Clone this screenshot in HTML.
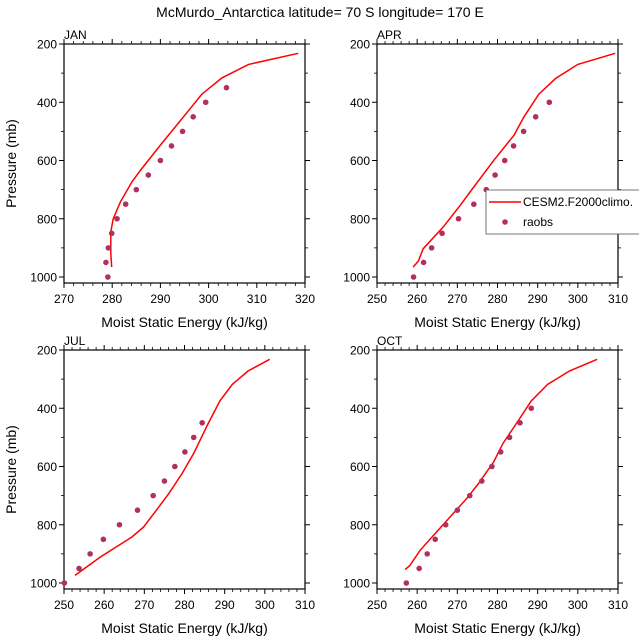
<!DOCTYPE html>
<html><head><meta charset="utf-8"><style>
body{margin:0;background:#fff;}
svg{font-family:"Liberation Sans",Arial,sans-serif;}
</style></head><body>
<svg id="c" width="639" height="639" viewBox="0 0 639 639" xmlns="http://www.w3.org/2000/svg">
<text x="320" y="17" font-size="14" text-anchor="middle">McMurdo_Antarctica  latitude= 70 S longitude= 170 E</text>
</svg>
<script>
const NS="http://www.w3.org/2000/svg";
const panelNames=["JAN","APR","JUL","OCT"];
const xMins=[270,250,250,250];
const xMaxs=[320,310,310,310];
const yTicks=[200,400,600,800,1000];
const janModelP=[232,270,316,372,450,547,633,673,742,800,845,920,966];
const janModelX=[318.6,308.3,302.8,298.6,294.8,290,285.9,284.1,281.7,280.2,279.7,279.7,279.9];
const janObsP=[350,400,450,500,550,600,650,700,750,800,850,900,950,1000];
const janObsX=[303.7,299.4,296.8,294.6,292.3,290,287.5,285,282.8,281,279.9,279.2,278.7,279.1];
const aprModelP=[232,270,318,372,450,513,599,691,754,828,903,945,966];
const aprModelX=[309.3,300,294.5,290.3,286.6,284.1,279.1,274.1,270.7,266.5,261.5,260.3,259];
const aprObsP=[400,450,500,550,600,650,700,750,800,850,900,950,1000];
const aprObsX=[292.9,289.5,286.5,284,281.8,279.4,277.2,274.1,270.3,266.2,263.6,261.6,259.1];
const julModelP=[232,272,318,375,458,555,624,693,750,808,842,911,974];
const julModelX=[301.2,295.8,291.9,288.8,285.7,282.3,279.4,276.1,273,269.8,266.9,259,252.75];
const julObsP=[450,500,550,600,650,700,750,800,850,900,950,1000];
const julObsX=[284.4,282.3,280.1,277.6,275,272.2,268.3,263.8,259.8,256.5,253.75,250.1];
const octModelP=[232,272,318,375,440,520,583,658,709,761,830,888,940,954];
const octModelX=[304.8,297.9,292.5,288.4,285.3,281.4,279.1,275.3,272.4,269,264.5,260.7,258.2,257];
const octObsP=[400,450,500,550,600,650,700,750,800,850,900,950,1000];
const octObsX=[288.4,285.6,283,280.8,278.6,276.1,273.1,270,267.1,264.5,262.5,260.5,257.3];
const modelPs=[janModelP,aprModelP,julModelP,octModelP];
const modelXs=[janModelX,aprModelX,julModelX,octModelX];
const obsPs=[janObsP,aprObsP,julObsP,octObsP];
const obsXs=[janObsX,aprObsX,julObsX,octObsX];

const svg=document.getElementById('c');
function mk(tag,attrs,parent){const e=document.createElementNS(NS,tag);for(const k in attrs)e.setAttribute(k,attrs[k]);(parent||svg).appendChild(e);return e;}
const boxes=[[64,44],[377,44],[64,350],[377,350]];
const W=241,H=239,PMIN=200,PMAX=1020.6;
for(let i=0;i<4;i++){
  const [L,T]=boxes[i];
  const g=mk('g',{});
  
  
  const xs=v=>L+(v-xMins[i])/(xMaxs[i]-xMins[i])*W;
  const ys=p=>T+(p-PMIN)/(PMAX-PMIN)*H;
  for(let v=xMins[i];v<=xMaxs[i]+1e-6;v+=2){
    const major=((v-xMins[i])%10)===0;const len=major?5:3;
    const x=xs(v);
    mk('line',{x1:x,x2:x,y1:T+H,y2:T+H+len,stroke:'#000','stroke-width':major?1:0.8},g);
    mk('line',{x1:x,x2:x,y1:T,y2:T-len,stroke:'#000','stroke-width':major?1:0.8},g);
    if(major){const t=mk('text',{x:x,y:T+H+20,'font-size':12,'text-anchor':'middle'},g);t.textContent=v;
      
      }
  }
  for(let p=200;p<=1000;p+=100){
    const major=p%200===0;const len=major?5:3;const y=ys(p);
    mk('line',{x1:L,x2:L-len,y1:y,y2:y,stroke:'#000','stroke-width':major?1:0.8},g);
    mk('line',{x1:L+W,x2:L+W+len,y1:y,y2:y,stroke:'#000','stroke-width':major?1:0.8},g);
  }
  yTicks.forEach(p=>{const t=mk('text',{x:L-7,y:ys(p)+4.5,'font-size':12,'text-anchor':'end'},g);t.textContent=p;
    
    });
  mk('rect',{x:L,y:T,width:W,height:H,fill:'none',stroke:'#000','stroke-width':1.2},g);
  const lab=mk('text',{x:L,y:T-5,'font-size':12},g);lab.textContent=panelNames[i];
  
  
  const xt=mk('text',{x:L+W/2,y:T+H+44,'font-size':14,'text-anchor':'middle'},g);xt.textContent='Moist Static Energy (kJ/kg)';
  
  
  if(i%2===0){const yt=mk('text',{x:0,y:0,'font-size':14,'text-anchor':'middle',transform:`translate(16,${T+H/2}) rotate(-90)`},g);yt.textContent='Pressure (mb)';
    
    }
  const pts=modelXs[i].map((v,j)=>xs(v).toFixed(1)+','+ys(modelPs[i][j]).toFixed(1)).join(' ');
  const pl=mk('polyline',{points:pts,fill:'none',stroke:'#ff0000','stroke-width':1.5},g);
  
  
  obsXs[i].forEach((v,j)=>{const c=mk('circle',{cx:xs(v),cy:ys(obsPs[i][j]),r:2.8,fill:'#b03060'},g);
    
    });
}
const lg=mk('g',{});


mk('rect',{x:486,y:190,width:160,height:44,fill:'#fff',stroke:'#555','stroke-width':0.8},lg);
mk('line',{x1:489,x2:521,y1:202,y2:202,stroke:'#ff0000','stroke-width':1.5},lg);
const l1=mk('text',{x:523,y:206,'font-size':12},lg);l1.textContent='CESM2.F2000climo.';


mk('circle',{cx:505,cy:222,r:2.8,fill:'#b03060'},lg);
const l2=mk('text',{x:523,y:226,'font-size':12},lg);l2.textContent='raobs';


</script>
</body></html>
